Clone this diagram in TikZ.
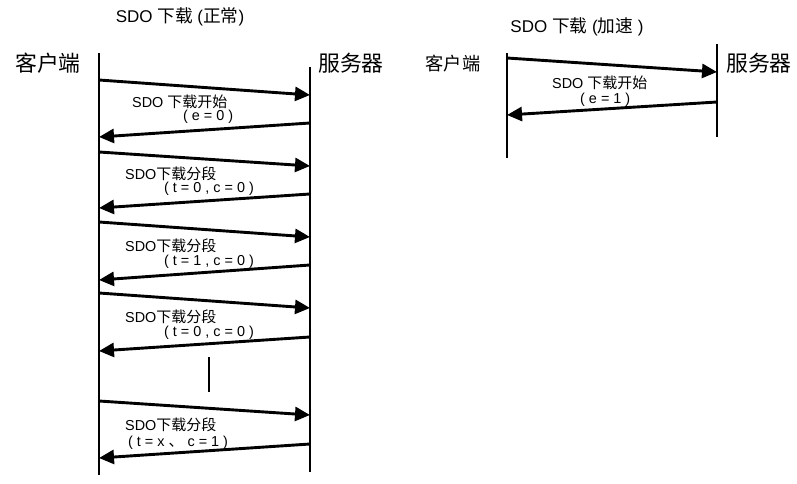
\documentclass[tikz,border=0pt]{standalone}
\usepackage{fontspec}
\setmainfont{Liberation Sans}
\newfontfamily\zhfont[Scale=1.04]{Noto Sans CJK SC}
\newcommand\zh[1]{{\zhfont #1}}
\usetikzlibrary{arrows.meta}
\begin{document}
\begin{tikzpicture}[x=1pt,y=-1pt,
  life/.style={line width=2.9pt},
  msg/.style={line width=2.9pt,-{Triangle[length=15pt,width=14pt]}},
  lbl/.style={anchor=west,inner sep=0pt,font=\fontsize{14.4}{14.4}\selectfont},
  ttl/.style={anchor=center,inner sep=0pt,font=\fontsize{17}{17}\selectfont},
  role/.style={anchor=center,inner sep=0pt,font=\fontsize{21}{21}\selectfont}]
\useasboundingbox (0,0) rectangle (797,484);
% ---------- left diagram ----------
\node[ttl] (t1) at (180,17) {SDO \zh{下载} (\zh{正常})};
\node[role] (cl1) at (48,63) {\zh{客户端}};
\node[role] (sv1) at (351,63) {\zh{服务器}};
\coordinate (cA) at (99,53);  \coordinate (cB) at (99,475);
\coordinate (sA) at (310,67); \coordinate (sB) at (310,472);
\draw[life] (cA) -- (cB);
\draw[life] (sA) -- (sB);
% messages
\coordinate (m1a) at (99,80);   \coordinate (m1b) at (310,95);
\coordinate (m2a) at (310,123); \coordinate (m2b) at (99,137);
\coordinate (m3a) at (99,152);  \coordinate (m3b) at (310,166);
\coordinate (m4a) at (310,194); \coordinate (m4b) at (99,208);
\coordinate (m5a) at (99,222);  \coordinate (m5b) at (310,237);
\coordinate (m6a) at (310,265); \coordinate (m6b) at (99,280);
\coordinate (m7a) at (99,293);  \coordinate (m7b) at (310,308);
\coordinate (m8a) at (310,337); \coordinate (m8b) at (99,351);
\coordinate (m9a) at (99,401);  \coordinate (m9b) at (310,415);
\coordinate (m10a) at (310,444); \coordinate (m10b) at (99,458);
\foreach \i in {1,...,10} {\draw[msg] (m\i a) -- (m\i b);}
\coordinate (barA) at (209,357); \coordinate (barB) at (209,392);
\draw[life] (barA) -- (barB);
% labels
\node[lbl] (l1a) at (132,102) {SDO \zh{下载开始}};
\node[lbl] (l1b) at (183,117) {( e = 0 )};
\node[lbl] (l2a) at (125,174) {SDO\zh{下载分段}};
\node[lbl] (l2b) at (164,189) {( t = 0 , c = 0 )};
\node[lbl] (l3a) at (125,246) {SDO\zh{下载分段}};
\node[lbl] (l3b) at (164,262) {( t = 1 , c = 0 )};
\node[lbl] (l4a) at (125,317) {SDO\zh{下载分段}};
\node[lbl] (l4b) at (164,333) {( t = 0 , c = 0 )};
\node[lbl] (l5a) at (125,425) {SDO\zh{下载分段}};
\node[lbl] (l5b) at (128,443) {( t = x \zh{、} c = 1 )};
% ---------- right diagram ----------
\node[ttl] (t2) at (577,27) {SDO \zh{下载} (\zh{加速} )};
\node[role,font=\fontsize{17.5}{17.5}\selectfont] (cl2) at (453,64) {\zh{客户端}};
\node[role] (sv2) at (759,63) {\zh{服务器}};
\coordinate (rcA) at (507,53);  \coordinate (rcB) at (507,158);
\coordinate (rsA) at (717,44);  \coordinate (rsB) at (717,137);
\draw[life] (rcA) -- (rcB);
\draw[life] (rsA) -- (rsB);
\coordinate (r1a) at (507,58);  \coordinate (r1b) at (717,72);
\coordinate (r2a) at (717,102); \coordinate (r2b) at (507,115);
\draw[msg] (r1a) -- (r1b);
\draw[msg] (r2a) -- (r2b);
\node[lbl] (rl1a) at (552,83) {SDO \zh{下载开始}};
\node[lbl] (rl1b) at (580,100) {( e = 1 )};
\end{tikzpicture}
\end{document}
